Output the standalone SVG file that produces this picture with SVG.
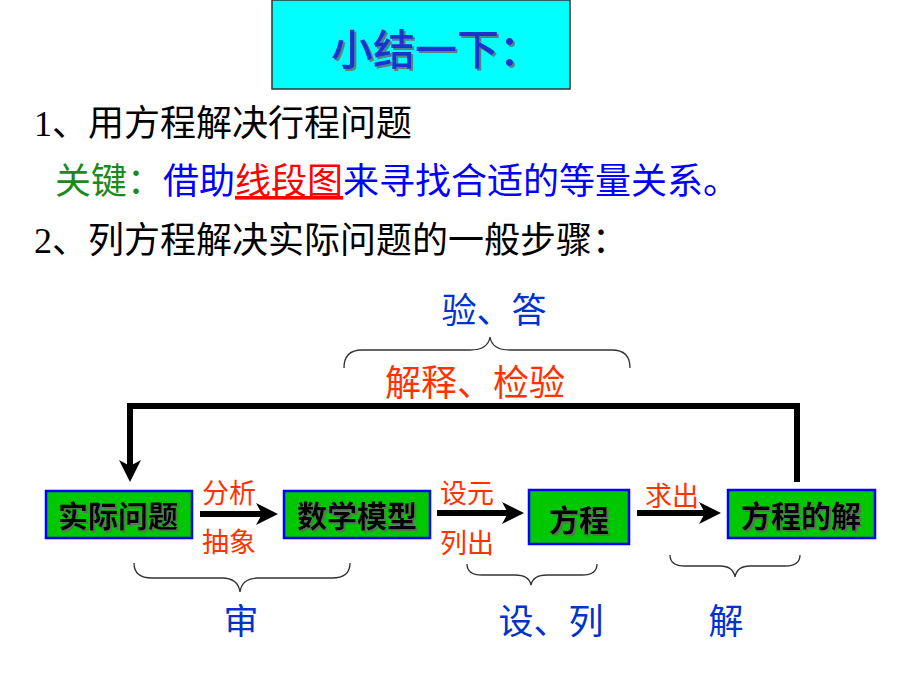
<svg xmlns="http://www.w3.org/2000/svg" width="920" height="690" viewBox="0 0 920 690">
<defs>
<style>
.cjk{font-family:"Noto Sans CJK SC","Liberation Sans",sans-serif;}
.ser{font-family:"Liberation Serif","Noto Sans CJK SC",serif;}
.box{fill:#00C800;stroke:#0000FF;stroke-width:2.5;}
.bt{font-size:30px;font-weight:bold;fill:#000;text-anchor:middle;}
.lab{font-size:27px;fill:#FF3300;}
.blu{fill:#0033CC;}
.brace{fill:none;stroke:#333;stroke-width:1.3;}
.thick{fill:none;stroke:#000;stroke-width:6;}
</style>
<filter id="sh" x="-10%" y="-10%" width="130%" height="140%">
<feDropShadow dx="2" dy="2" stdDeviation="0.6" flood-color="#666" flood-opacity="0.8"/>
</filter>
</defs>
<rect width="920" height="690" fill="#fff"/>

<g id="title">
<rect x="272" y="0" width="298" height="89" fill="#00FFFF" stroke="#333" stroke-width="1.5"/>
<text x="436" y="65" class="cjk" font-size="42" font-weight="500" fill="#1a33cc" text-anchor="middle" filter="url(#sh)">小结一下：</text>
</g>

<g id="text-lines">
<text x="34" y="136" class="ser" font-size="36" fill="#000">1、用方程解决行程问题</text>
<text x="55" y="194" class="cjk" font-size="36"><tspan fill="#1a8a1a">关键：</tspan><tspan fill="#0000FF">借助</tspan><tspan fill="#FF0000" text-decoration="underline">线段图</tspan><tspan fill="#0000FF">来寻找合适的等量关系。</tspan></text>
<text x="34" y="253" class="ser" font-size="36" fill="#000">2、列方程解决实际问题的一般步骤：</text>
</g>

<g id="top-brace">
<text x="494" y="323" class="cjk blu" font-size="35" text-anchor="middle">验、答</text>
<path class="brace" d="M344,368 Q344,350 362,350 L470,350 Q488,350 490,337 Q492,350 510,350 L612,350 Q630,350 630,368"/>
<text x="475" y="396" class="cjk" font-size="36" fill="#FF3300" text-anchor="middle">解释、检验</text>
</g>

<g id="connectors">
<path class="thick" d="M797,482 L797,406 L130,406 L130,466"/>
<path d="M119,460 L130,466 L141,460 L130,482 z" fill="#000"/>
<line class="thick" x1="200" y1="514" x2="262" y2="514"/>
<path d="M256,503 L278,514 L256,525 L262,514 z" fill="#000"/>
<line class="thick" x1="437" y1="513" x2="508" y2="513"/>
<path d="M502,502 L524,513 L502,524 L508,513 z" fill="#000"/>
<line class="thick" x1="637" y1="513" x2="705" y2="513"/>
<path d="M699,502 L721,513 L699,524 L705,513 z" fill="#000"/>
</g>

<g id="node-shiji">
<rect class="box" x="46" y="491" width="146" height="47"/>
<text x="118" y="527" class="cjk bt" filter="url(#sh)">实际问题</text>
</g>
<g id="node-shuxue">
<rect class="box" x="284" y="491" width="146" height="47"/>
<text x="357" y="527" class="cjk bt" filter="url(#sh)">数学模型</text>
</g>
<g id="node-fangcheng">
<rect class="box" x="529" y="490" width="100" height="54"/>
<text x="579" y="531" class="cjk bt" font-size="33" filter="url(#sh)">方程</text>
</g>
<g id="node-jie">
<rect class="box" x="728" y="490" width="147" height="48"/>
<text x="801" y="527" class="cjk bt" filter="url(#sh)">方程的解</text>
</g>

<g id="edge-labels">
<text x="202" y="503" class="cjk lab">分析</text>
<text x="202" y="552" class="cjk lab">抽象</text>
<text x="440" y="503" class="cjk lab">设元</text>
<text x="440" y="553" class="cjk lab">列出</text>
<text x="645" y="506" class="cjk lab">求出</text>
</g>

<g id="bottom-braces">
<path class="brace" d="M134,563 Q134,578 152,578 L222,578 Q238,578 240,592 Q242,578 258,578 L332,578 Q350,578 350,563"/>
<text x="241" y="634" class="cjk blu" font-size="35" text-anchor="middle">审</text>
<path class="brace" d="M467,564 Q467,575 482,575 L515,575 Q529,575 531,585 Q533,575 547,575 L582,575 Q597,575 597,564"/>
<text x="551" y="634" class="cjk blu" font-size="35" text-anchor="middle">设、列</text>
<path class="brace" d="M670,555 Q670,566 685,566 L720,566 Q733,566 735,577 Q737,566 750,566 L785,566 Q800,566 800,555"/>
<text x="726" y="634" class="cjk blu" font-size="35" text-anchor="middle">解</text>
</g>
</svg>
